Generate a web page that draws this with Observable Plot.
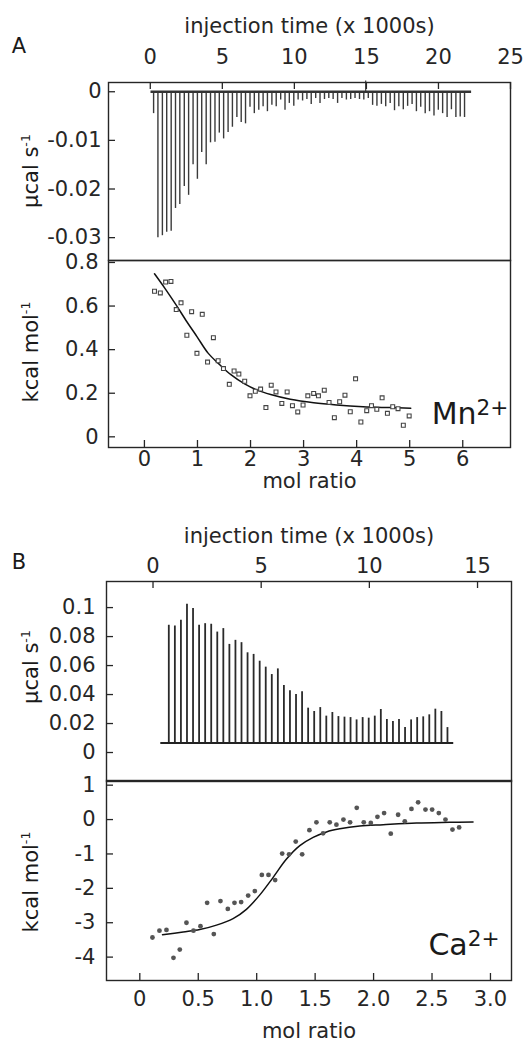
<!DOCTYPE html>
<html><head><meta charset="utf-8">
<script src="https://cdn.jsdelivr.net/npm/d3@7"></script>
<script src="https://cdn.jsdelivr.net/npm/@observablehq/plot@0.6"></script>
<style>
html,body{margin:0;padding:0;background:#fff;}
#wrap{position:relative;width:531px;height:1043px;overflow:hidden;font-family:"DejaVu Sans","Liberation Sans",Arial,sans-serif;color:#1a1a1a;}
#wrap svg{position:absolute;left:0;}
.lbl{position:absolute;white-space:nowrap;line-height:1;}
</style></head><body><div id="wrap"></div>
<script>
// ---------- Panel A (Mn2+) : raw thermogram ----------
const spikeTimesA = [0.23,0.53,0.84,1.14,1.45,1.75,2.05,2.36,2.66,2.97,3.27,3.57,3.88,4.18,4.49,4.79,5.09,5.40,5.70,6.01,6.31,6.61,6.92,7.22,7.53,
  7.83,8.13,8.44,8.74,9.05,9.35,9.65,9.96,10.26,10.57,10.87,11.17,11.48,11.78,12.09,12.39,12.69,13.00,13.30,13.61,13.91,14.21,14.52,14.82,15.13,
  15.43,15.73,16.04,16.34,16.65,16.95,17.25,17.56,17.86,18.17,18.47,18.77,19.08,19.38,19.69,19.99,20.29,20.60,20.90,21.21,21.51,21.81];
const spikeDepthsA = [-0.0045,-0.0300,-0.0296,-0.0289,-0.0287,-0.0240,-0.0232,-0.0195,-0.0213,-0.0150,-0.0180,-0.0125,-0.0150,-0.0105,-0.0104,-0.0085,-0.0097,-0.0084,-0.0073,-0.0053,-0.0063,-0.0066,-0.0032,-0.0045,-0.0038,
  -0.0031,-0.0041,-0.0028,-0.0031,-0.0017,-0.0038,-0.0024,-0.0030,-0.0017,-0.0019,-0.0016,-0.0026,-0.0014,-0.0024,-0.0016,-0.0014,-0.0016,-0.0024,-0.0014,-0.0017,-0.0016,-0.0014,-0.0016,-0.0017,-0.0014,
  -0.0028,-0.0030,-0.0026,-0.0031,-0.0024,-0.0039,-0.0031,-0.0037,-0.0030,-0.0026,-0.0041,-0.0032,-0.0045,-0.0041,-0.0050,-0.0038,-0.0045,-0.0053,-0.0037,-0.0053,-0.0052,-0.0053];
const bumpTimesA = [14.95];
const bumpValuesA = [0.0022];
const baselineSpanA = [0.05, 22.3];
const timeTicksA = [0, 5, 10, 15, 20, 25];
const rateTicksA = [0, -0.01, -0.02, -0.03];

// ---------- Panel A : integrated heats ----------
const molA = [0.19,0.30,0.40,0.50,0.60,0.69,0.80,0.89,0.99,1.09,1.19,1.30,1.39,1.49,1.60,1.69,1.78,1.89,1.99,2.09,2.19,2.29,2.39,2.48,2.59,2.69,2.79,2.89,2.99,3.08,3.19,3.28,3.39,3.48,3.58,3.68,3.78,3.88,3.98,4.08,4.19,4.28,4.38,4.48,4.58,4.68,4.78,4.88,4.99];
const heatA = [0.668,0.660,0.710,0.713,0.584,0.615,0.466,0.574,0.383,0.562,0.343,0.455,0.349,0.313,0.241,0.302,0.288,0.255,0.188,0.209,0.219,0.134,0.237,0.206,0.153,0.206,0.143,0.114,0.146,0.188,0.199,0.188,0.214,0.158,0.088,0.161,0.191,0.115,0.266,0.068,0.120,0.143,0.126,0.179,0.108,0.138,0.129,0.053,0.096];
const fitMolA = [0.19,0.39,0.60,0.80,0.99,1.20,1.42,1.63,1.88,2.13,2.38,2.75,3.19,3.62,4.12,4.62,5.02];
const fitHeatA = [0.748,0.680,0.604,0.528,0.460,0.384,0.331,0.285,0.244,0.214,0.194,0.172,0.156,0.146,0.138,0.134,0.131];
const molTicksA = [0,1,2,3,4,5,6];
const heatTicksA = [0,0.2,0.4,0.6,0.8];

// ---------- Panel B (Ca2+) : raw thermogram ----------
const spikeTimesB = [0.73,1.01,1.29,1.57,1.85,2.13,2.41,2.69,2.97,3.25,3.53,3.81,4.09,4.37,4.65,4.93,5.21,5.49,5.77,6.05,6.33,6.61,6.89,7.17,7.45,
  7.73,8.01,8.29,8.57,8.85,9.13,9.41,9.69,9.97,10.25,10.53,10.81,11.09,11.37,11.65,11.93,12.21,12.49,12.77,13.05,13.33,13.61];
const spikePeaksB = [0.0878,0.0873,0.0912,0.1023,0.0993,0.0878,0.0889,0.0885,0.0831,0.0855,0.0746,0.0774,0.0758,0.0688,0.0677,0.0630,0.0589,0.0538,0.0577,0.0462,0.0427,0.0400,0.0420,0.0306,0.0283,
  0.0310,0.0251,0.0276,0.0248,0.0244,0.0241,0.0225,0.0241,0.0237,0.0251,0.0297,0.0228,0.0214,0.0228,0.0172,0.0225,0.0241,0.0246,0.0260,0.0299,0.0283,0.0172];
const baselineB = 0.0065;
const baselineSpanB = [0.36, 13.9];
const timeTicksB = [0, 5, 10, 15];
const rateTicksB = [0, 0.02, 0.04, 0.06, 0.08, 0.1];

// ---------- Panel B : integrated heats ----------
const molB = [0.108,0.168,0.228,0.288,0.342,0.399,0.459,0.519,0.576,0.633,0.690,0.753,0.810,0.867,0.927,0.984,1.044,1.101,1.158,1.218,1.277,1.334,1.389,1.451,1.511,1.568,1.625,1.682,1.742,1.799,1.856,1.916,1.976,2.033,2.090,2.147,2.210,2.267,2.324,2.381,2.444,2.501,2.558,2.615,2.675,2.732];
const heatB = [-3.43,-3.23,-3.21,-4.02,-3.78,-3.00,-3.23,-3.10,-2.42,-3.33,-2.37,-2.60,-2.42,-2.40,-2.21,-2.08,-1.61,-1.61,-1.76,-0.99,-1.01,-0.64,-1.01,-0.31,-0.08,-0.40,-0.08,-0.15,0.00,-0.08,0.34,-0.08,-0.10,0.08,0.19,-0.41,0.14,-0.05,0.31,0.50,0.29,0.29,0.19,0.00,-0.29,-0.23];
const fitMolB = [0.194,0.371,0.513,0.656,0.798,0.912,1.027,1.141,1.255,1.369,1.483,1.597,1.711,1.882,2.082,2.367,2.652,2.851];
const fitHeatB = [-3.35,-3.27,-3.20,-3.07,-2.88,-2.61,-2.19,-1.68,-1.15,-0.76,-0.52,-0.36,-0.27,-0.19,-0.15,-0.10,-0.08,-0.07];
const molTicksB = [0,0.5,1,1.5,2,2.5,3];
const heatTicksB = [1,0,-1,-2,-3,-4];

// ---------- drawing ----------
const W = 531;
const INK = "#262626";
const FONT = '"DejaVu Sans", "Liberation Sans", Arial, sans-serif';
const FS = 21;
const wrap = document.getElementById("wrap");
const zip = (a, b, ka, kb) => a.slice(0, Math.min(a.length, b.length)).map((v, i) => ({[ka]: v, [kb]: b[i]}));
const fmtPlain = d => String(d);

function place(svg, top) { svg.style.top = top + "px"; wrap.appendChild(svg); }
function baseStyle() { return {background: "transparent", fontFamily: FONT, fontSize: FS + "px", color: INK, overflow: "visible"}; }

function innerTicksTop(ticks, ph) { return Plot.tickX(ticks, {x: d => d, insetBottom: ph - 7, stroke: INK, strokeWidth: 1.3}); }
function innerTicksBottom(ticks, ph) { return Plot.tickX(ticks, {x: d => d, insetTop: ph - 7, stroke: INK, strokeWidth: 1.3}); }
function innerTicksLeft(ticks, pw) { return Plot.tickY(ticks, {y: d => d, insetRight: pw - 7, stroke: INK, strokeWidth: 1.3}); }
function title(t, anchor, dy) { return Plot.text([t], {text: d => d, frameAnchor: anchor, lineAnchor: "middle", dy, fill: INK, fontSize: FS}); }

// Panel A top
{
  const height = 261, mt = 82, mb = 1, ml = 108, mr = 21;
  const ph = height - mt - mb, pw = W - ml - mr;
  const spikes = zip(spikeTimesA, spikeDepthsA, "t", "v");
  const bumps = zip(bumpTimesA, bumpValuesA, "t", "v");
  const svg = Plot.plot({
    width: W, height, marginTop: mt, marginBottom: mb, marginLeft: ml, marginRight: mr,
    style: baseStyle(),
    x: {domain: [-2.9, 25]}, y: {domain: [-0.0347, 0.0019]},
    marks: [
      Plot.ruleX(spikes, {x: "t", y1: 0, y2: "v", stroke: "#3a3a3a", strokeWidth: 1.4}),
      Plot.ruleX(bumps, {x: "t", y1: 0, y2: "v", stroke: "#3a3a3a", strokeWidth: 1.2}),
      Plot.ruleY([0], {x1: baselineSpanA[0], x2: baselineSpanA[1], stroke: "#333", strokeWidth: 2.4}),
      Plot.frame({stroke: INK, strokeWidth: 1.4}),
      innerTicksTop(timeTicksA, ph),
      innerTicksLeft(rateTicksA, pw),
      Plot.axisX({anchor: "top", ticks: timeTicksA, tickSize: 0, tickPadding: 19, tickFormat: fmtPlain, label: null, fill: INK}),
      Plot.axisY({anchor: "left", ticks: rateTicksA, tickSize: 0, tickPadding: 7, tickFormat: fmtPlain, label: null, fill: INK}),
      title("injection time (x 1000s)", "top", -56)
    ]
  });
  place(svg, 0);
}

// Panel A bottom
{
  const height = 240, mt = 1, mb = 52, ml = 108, mr = 21;
  const ph = height - mt - mb, pw = W - ml - mr;
  const pts = zip(molA, heatA, "m", "h");
  const fit = zip(fitMolA, fitHeatA, "m", "h");
  const svg = Plot.plot({
    width: W, height, marginTop: mt, marginBottom: mb, marginLeft: ml, marginRight: mr,
    style: baseStyle(),
    x: {domain: [-0.677, 6.90]}, y: {domain: [-0.049, 0.809]},
    marks: [
      Plot.line(fit, {x: "m", y: "h", curve: "catmull-rom", stroke: "#111", strokeWidth: 1.5}),
      Plot.dot(pts, {x: "m", y: "h", symbol: "square", r: 2.2, stroke: "#444", strokeWidth: 1.1, fill: "white"}),
      Plot.frame({stroke: INK, strokeWidth: 1.4}),
      innerTicksBottom(molTicksA, ph),
      innerTicksLeft(heatTicksA, pw),
      Plot.axisX({anchor: "bottom", ticks: molTicksA, tickSize: 0, tickPadding: 4, tickFormat: fmtPlain, label: null, fill: INK}),
      Plot.axisY({anchor: "left", ticks: heatTicksA, tickSize: 0, tickPadding: 10, tickFormat: fmtPlain, label: null, fill: INK}),
      title("mol ratio", "bottom", 34)
    ]
  });
  place(svg, 259);
}

// Panel B top
{
  const height = 292, mt = 91, mb = 1, ml = 106, mr = 20;
  const ph = height - mt - mb, pw = W - ml - mr;
  const spikes = zip(spikeTimesB, spikePeaksB, "t", "v");
  const svg = Plot.plot({
    width: W, height, marginTop: mt, marginBottom: mb, marginLeft: ml, marginRight: mr,
    style: baseStyle(),
    x: {domain: [-2.15, 16.57]}, y: {domain: [-0.02, 0.118]},
    marks: [
      Plot.ruleX(spikes, {x: "t", y1: baselineB, y2: "v", stroke: "#2a2a2a", strokeWidth: 1.8}),
      Plot.ruleY([baselineB], {x1: baselineSpanB[0], x2: baselineSpanB[1], stroke: "#222", strokeWidth: 2}),
      Plot.frame({stroke: INK, strokeWidth: 1.4}),
      innerTicksTop(timeTicksB, ph),
      innerTicksLeft(rateTicksB, pw),
      Plot.axisX({anchor: "top", ticks: timeTicksB, tickSize: 0, tickPadding: 9, tickFormat: fmtPlain, label: null, fill: INK}),
      Plot.axisY({anchor: "left", ticks: rateTicksB, tickSize: 0, tickPadding: 11, tickFormat: fmtPlain, label: null, fill: INK}),
      title("injection time (x 1000s)", "top", -45)
    ]
  });
  place(svg, 490);
}

// Panel B bottom
{
  const height = 264, mt = 1, mb = 63, ml = 106, mr = 20;
  const ph = height - mt - mb, pw = W - ml - mr;
  const pts = zip(molB, heatB, "m", "h");
  const fit = zip(fitMolB, fitHeatB, "m", "h");
  const svg = Plot.plot({
    width: W, height, marginTop: mt, marginBottom: mb, marginLeft: ml, marginRight: mr,
    style: baseStyle(),
    x: {domain: [-0.285, 3.18]}, y: {domain: [-4.68, 1.136]},
    marks: [
      Plot.line(fit, {x: "m", y: "h", curve: "catmull-rom", stroke: "#111", strokeWidth: 1.5}),
      Plot.dot(pts, {x: "m", y: "h", r: 2.4, fill: "#555", stroke: "none"}),
      Plot.frame({stroke: INK, strokeWidth: 1.4}),
      innerTicksBottom(molTicksB, ph),
      innerTicksLeft(heatTicksB, pw),
      Plot.axisX({anchor: "bottom", ticks: molTicksB, tickSize: 0, tickPadding: 11, tickFormat: d => d === 0 ? "0" : d.toFixed(1), label: null, fill: INK}),
      Plot.axisY({anchor: "left", ticks: heatTicksB, tickSize: 0, tickPadding: 11, tickFormat: fmtPlain, label: null, fill: INK}),
      title("mol ratio", "bottom", 51)
    ]
  });
  place(svg, 779);
}

// HTML labels (rotated axis titles with superscripts, panel letters, ion names)
function label(html, x, y, size, rotate) {
  const d = document.createElement("div");
  d.className = "lbl";
  d.style.left = x + "px";
  d.style.top = y + "px";
  d.style.fontSize = size + "px";
  d.style.transform = "translate(-50%,-50%)" + (rotate ? " rotate(-90deg)" : "");
  d.innerHTML = html;
  wrap.appendChild(d);
}
const supY = t => `<span style="font-size:0.6em;vertical-align:0.6em">${t}</span>`;
const supIon = t => `<span style="font-size:0.72em;vertical-align:0.45em">${t}</span>`;
label("μcal s" + supY("-1"), 31, 171, FS, true);
label("kcal mol" + supY("-1"), 31, 352, FS, true);
label("μcal s" + supY("-1"), 31, 667, FS, true);
label("kcal mol" + supY("-1"), 31, 882, FS, true);
label("A", 19, 46, 21);
label("B", 19, 562, 21);
label("Mn" + supIon("2+"), 470, 413, 30);
label("Ca" + supIon("2+"), 464, 944, 30);
</script></body></html>
